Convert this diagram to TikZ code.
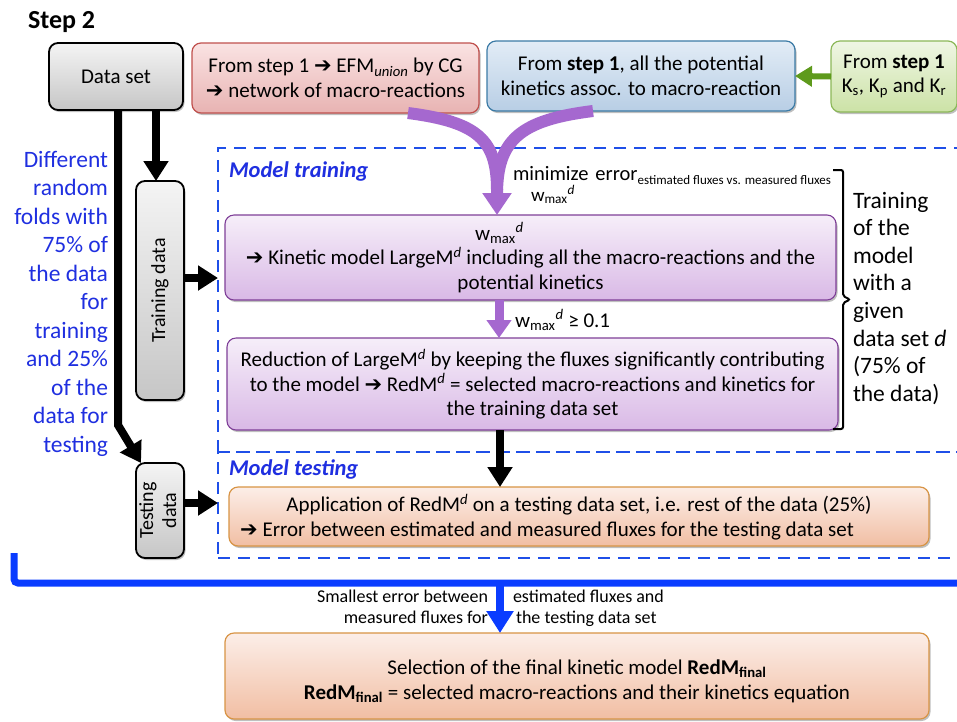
\documentclass[tikz,border=0pt]{standalone}
\usepackage{fontspec}
\setmainfont{Carlito}
\newfontfamily\symfont{DejaVu Sans}
\usetikzlibrary{arrows.meta,shadows}

% heavy right arrow and the w_max^d symbol
\newcommand{\harr}{{\symfont\char"2794}}
\newcommand{\wmaxd}{w\textsubscript{max}\textsuperscript{\textit{d}}}
\newcommand{\mainsz}{\fontsize{21}{24.5}\selectfont}

\definecolor{graytop}{HTML}{F4F4F4}
\definecolor{graybot}{HTML}{C6C6C6}
\definecolor{redtop}{HTML}{FAE3E3}
\definecolor{redbot}{HTML}{E8B3B2}
\definecolor{redline}{HTML}{C0504D}
\definecolor{bluetop}{HTML}{E2ECF6}
\definecolor{bluebot}{HTML}{B8CEE5}
\definecolor{blueline}{HTML}{3C7BA6}
\definecolor{greentop}{HTML}{EFF6E4}
\definecolor{greenbot}{HTML}{CCE2A6}
\definecolor{greenline}{HTML}{8CB859}
\definecolor{greenarrow}{HTML}{5E9A1C}
\definecolor{purptop}{HTML}{F6EEF9}
\definecolor{purpbot}{HTML}{D9B9E6}
\definecolor{purpline}{HTML}{7F3F98}
\definecolor{purparrow}{HTML}{A568CF}
\definecolor{orangetop}{HTML}{FCEEE8}
\definecolor{orangebot}{HTML}{F1BEA3}
\definecolor{orangeline}{HTML}{D89445}
\definecolor{textblue}{HTML}{1F2FE0}
\definecolor{dashblue}{HTML}{1F4FE8}
\definecolor{lineblue}{HTML}{0A3CFF}

\tikzset{
  softshadow/.style={drop shadow={shadow xshift=1.5pt, shadow yshift=-2pt, opacity=0.25, fill=black}},
  basebox/.style={rounded corners=9pt, inner sep=0pt, outer sep=0pt, align=center,
    font=\mainsz, text=black, softshadow},
  graybox/.style={basebox, draw=black, line width=1.8pt, top color=graytop, bottom color=graybot},
  redbox/.style={basebox, draw=redline, line width=1.2pt, top color=redtop, bottom color=redbot},
  bluebox/.style={basebox, draw=blueline, line width=1.2pt, top color=bluetop, bottom color=bluebot},
  greenbox/.style={basebox, draw=greenline, line width=1.2pt, top color=greentop, bottom color=greenbot},
  purpbox/.style={basebox, draw=purpline, line width=1.1pt, top color=purptop, bottom color=purpbot},
  orangebox/.style={basebox, draw=orangeline, line width=1.2pt, top color=orangetop, bottom color=orangebot},
  frame/.style={draw=dashblue, line width=2.8pt, dash pattern=on 12pt off 8pt, inner sep=0pt, outer sep=0pt},
  framelbl/.style={inner sep=0pt, outer sep=0pt, anchor=west, text=textblue, font=\bfseries\itshape\fontsize{22.5}{26}\selectfont},
  blk/.style={draw=black, line width=8pt, -{Triangle[width=24pt,length=20pt]}},
  purparr/.style={draw=purparrow, line width=12pt, -{Triangle[width=28pt,length=22pt]}},
  purparrs/.style={draw=purparrow, line width=9pt, -{Triangle[width=24pt,length=18pt]}},
  greenarr/.style={draw=greenarrow, line width=6pt, -{Triangle[width=20pt,length=17pt]}},
  bluearr/.style={draw=lineblue, line width=8pt, -{Triangle[width=26pt,length=22pt]}},
  blueline/.style={draw=lineblue, line width=7pt, rounded corners=4pt},
  plain/.style={inner sep=0pt, outer sep=0pt, text=black},
}

\begin{document}
\begin{tikzpicture}[x=1pt,y=-1pt]
\useasboundingbox[fill=white] (0,0) rectangle (957,721);

% title
\node[plain, anchor=west, font=\bfseries\fontsize{26}{30}\selectfont] (step) at (28,22) {Step 2};

% top row of inputs
\node[graybox, minimum width=134pt, minimum height=67pt] (data) at (116,76.5) {Data set};
\node[redbox, minimum width=287pt, minimum height=70pt] (union) at (335.5,78)
  {From step 1 \harr{} EFM\textsubscript{\textit{union}} by CG\\\harr{} network of macro-reactions};
\node[bluebox, minimum width=308pt, minimum height=70pt] (kin) at (641,76)
  {From \textbf{step 1}, all the potential\\kinetics assoc. to macro-reaction};
\node[greenbox, minimum width=126pt, minimum height=71pt] (kpar) at (894,76.5)
  {From \textbf{step 1}\\K\textsubscript{s}, K\textsubscript{p} and K\textsubscript{r}};
\draw[greenarr] (kpar.west) -- (kin.east);

% dashed frames for training and testing
\node[frame, minimum width=742pt, minimum height=304pt] (trainframe) at (589,300) {};
\node[frame, minimum width=742pt, minimum height=106pt] (testframe) at (589,505) {};
\node[framelbl] (trainlbl) at (229,171) {Model training};
\node[framelbl] (testlbl) at (229,469) {Model testing};

% data split
\node[graybox, font=\fontsize{20}{23}\selectfont, minimum width=48pt, minimum height=219pt] (train) at (160,290.5) {\rotatebox{90}{Training data}};
\node[graybox, font=\fontsize{20}{23}\selectfont, minimum width=48pt, minimum height=95pt] (test) at (160,510.5)
  {\rotatebox{90}{\begin{tabular}{@{}c@{}}Testing\\data\end{tabular}}};
\draw[blk] ([xshift=40pt]data.south) -- ([xshift=-4pt]train.north);
\draw[blk] ([xshift=2pt]data.south) -- (118,425) -- ([xshift=-19pt]test.north);
\draw[blk] ([yshift=12.5pt]train.east) -- ([yshift=12.5pt]train.east -| trainframe.west);
\draw[blk] ([yshift=7.5pt]test.east) -- ([yshift=7.5pt]test.east -| testframe.west);

\node[plain, anchor=north east, align=right, text=textblue, font=\fontsize{23.5}{28.5}\selectfont] (folds) at (108,151)
  {Different\\random\\folds with\\75\% of\\the data\\for\\training\\and 25\%\\of the\\data for\\testing};

% training steps
\node[purpbox, minimum width=611pt, minimum height=85pt] (large) at (530.5,257.5)
  {\hspace*{-62pt}\wmaxd\\\harr{} Kinetic model LargeM\textsuperscript{\textit{d}} including all the macro-reactions and the\\potential kinetics};
\node[purpbox, minimum width=611pt, minimum height=92pt] (reduce) at (532.5,384)
  {Reduction of LargeM\textsuperscript{\textit{d}} by keeping the fluxes significantly contributing\\to the model \harr{} RedM\textsuperscript{\textit{d}} = selected macro-reactions and kinetics for\\the training data set};

\draw[draw=purparrow, line width=12pt] ([xshift=72.5pt]union.south) .. controls (478,122) and (497,140) .. (497,190);
\draw[purparr] ([xshift=-48pt]kin.south) .. controls (520,120) and (497,140) .. ([xshift=-33.5pt]large.north);
\draw[purparrs] ([xshift=-31.5pt]large.south) -- ([xshift=-33.5pt]reduce.north);

\node[plain, anchor=base west, font=\fontsize{20.5}{22}\selectfont] (minlbl) at (513,180)
  {minimize\hspace{7pt}error{\fontsize{13}{13}\selectfont\raisebox{-4pt}{estimated fluxes vs. measured fluxes}}};
\node[plain, anchor=base west, font=\fontsize{19}{21}\selectfont] (minw) at (531,201) {\wmaxd};
\node[plain, anchor=base west, font=\mainsz] (thr) at (515,327) {\wmaxd{} ≥ 0.1};

% bracket with its note
\draw[line width=2pt, rounded corners=2pt] (833,170) -| (843,296) -- (850,299.5) -- (843,303) |- (833,429);
\node[plain, anchor=north west, align=left, font=\fontsize{23.5}{27.6}\selectfont] (note) at (853,192)
  {Training\\of the\\model\\with a\\given\\data set \textit{d}\\(75\% of\\the data)};

% testing step
\node[orangebox, minimum width=700pt, minimum height=59pt] (apply) at (579,516.5)
  {\rule{0pt}{19pt}Application of RedM\textsuperscript{\textit{d}} on a testing data set, i.e. rest of the data (25\%)\\\harr{} Error between estimated and measured fluxes for the testing data set\hspace*{64pt}};
\draw[blk] ([xshift=-32.5pt]reduce.south) -- ([xshift=-79pt]apply.north);

% final selection
\coordinate (bl1) at (14,553);
\coordinate (bl2) at (14,583);
\coordinate (bl3) at (960,583);
\coordinate (bsplit) at (500,583);
\draw[blueline] (bl1) -- (bl2) -- (bl3);
\node[orangebox, minimum width=704pt, minimum height=86pt] (final) at (577,676)
  {\rule{0pt}{25pt}Selection of the final kinetic model \textbf{RedM\textsubscript{final}}\\\textbf{RedM\textsubscript{final}} = selected macro-reactions and their kinetics equation};
\draw[bluearr] (bsplit) -- ([xshift=-77pt]final.north);
\node[plain, anchor=north east, align=right, font=\fontsize{18}{21}\selectfont] (selL) at (488,590)
  {Smallest error between\\measured fluxes for};
\node[plain, anchor=north west, align=left, font=\fontsize{18}{21}\selectfont] (selR) at (513,590)
  {estimated fluxes and\\\hspace*{3pt}the testing data set};
\end{tikzpicture}
\end{document}
